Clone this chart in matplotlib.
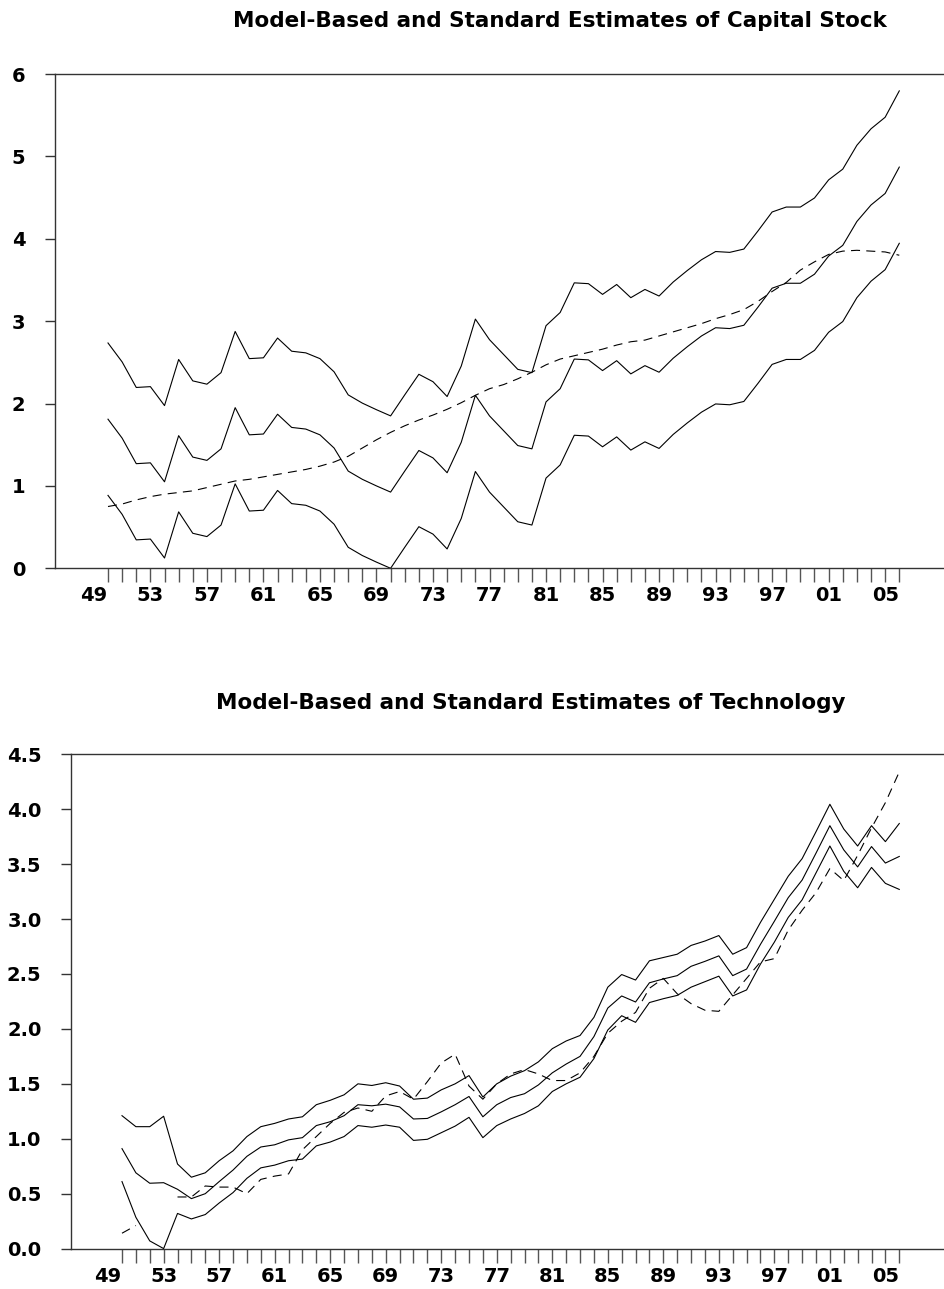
import numpy as np
import matplotlib
matplotlib.use("Agg")
import matplotlib.pyplot as plt

plt.rcParams['font.family'] = ['DejaVu Sans']
plt.rcParams['lines.scale_dashes'] = False

years = list(range(1950, 2007))
label_years = list(range(1949, 2006, 4))
label_text = ['49', '53', '57', '61', '65', '69', '73', '77', '81', '85', '89', '93', '97', '01', '05']

# ---- Capital stock panel ----
cap_mid = [1.81, 1.58, 1.27, 1.28, 1.05, 1.61, 1.35, 1.31, 1.45, 1.95,
           1.62, 1.63, 1.87, 1.71, 1.69, 1.62, 1.46, 1.18, 1.08, 1.00,
           0.925, 1.18, 1.43, 1.34, 1.16, 1.53, 2.10, 1.85, 1.67, 1.49,
           1.45, 2.02, 2.18, 2.54, 2.53, 2.40, 2.52, 2.36, 2.46, 2.38,
           2.55, 2.69, 2.82, 2.92, 2.91, 2.95, 3.17, 3.40, 3.46, 3.46,
           3.57, 3.79, 3.92, 4.21, 4.41, 4.55, 4.87]
cap_upper = [2.735, 2.505, 2.195, 2.205, 1.975, 2.535, 2.275, 2.235, 2.375, 2.875,
             2.545, 2.555, 2.795, 2.635, 2.615, 2.545, 2.385, 2.105, 2.005, 1.925,
             1.85, 2.105, 2.355, 2.265, 2.085, 2.455, 3.025, 2.775, 2.595, 2.415,
             2.375, 2.945, 3.105, 3.465, 3.455, 3.325, 3.445, 3.285, 3.385, 3.305,
             3.475, 3.615, 3.745, 3.845, 3.835, 3.875, 4.095, 4.325, 4.385, 4.385,
             4.495, 4.715, 4.845, 5.135, 5.335, 5.475, 5.795]
cap_lower = [0.885, 0.655, 0.345, 0.355, 0.125, 0.685, 0.425, 0.385, 0.525, 1.025,
             0.695, 0.705, 0.945, 0.785, 0.765, 0.695, 0.535, 0.255, 0.155, 0.075,
             0.0, 0.255, 0.505, 0.415, 0.235, 0.605, 1.175, 0.925, 0.745, 0.565,
             0.525, 1.095, 1.255, 1.615, 1.605, 1.475, 1.595, 1.435, 1.535, 1.455,
             1.625, 1.765, 1.895, 1.995, 1.985, 2.025, 2.245, 2.475, 2.535, 2.535,
             2.645, 2.865, 2.995, 3.285, 3.485, 3.625, 3.945]
cap_std = [0.75, 0.78, 0.83, 0.87, 0.90, 0.92, 0.94, 0.98, 1.02, 1.06,
           1.08, 1.11, 1.14, 1.17, 1.20, 1.24, 1.29, 1.36, 1.46, 1.56,
           1.65, 1.73, 1.80, 1.86, 1.93, 2.01, 2.10, 2.18, 2.23, 2.30,
           2.38, 2.47, 2.54, 2.58, 2.62, 2.66, 2.71, 2.75, 2.77, 2.82,
           2.87, 2.92, 2.97, 3.03, 3.08, 3.14, 3.24, 3.36, 3.47, 3.62,
           3.72, 3.81, 3.85, 3.86, 3.85, 3.84, 3.80]

# ---- Technology panel ----
tech_upper = [1.21, 1.11, 1.11, 1.205, 0.77, 0.65, 0.69, 0.80, 0.89, 1.02,
              1.11, 1.14, 1.18, 1.20, 1.31, 1.35, 1.40, 1.50, 1.485, 1.51,
              1.48, 1.36, 1.37, 1.445, 1.50, 1.575, 1.38, 1.50, 1.57, 1.62,
              1.70, 1.82, 1.89, 1.94, 2.105, 2.38, 2.495, 2.445, 2.62, 2.65,
              2.68, 2.76, 2.80, 2.85, 2.68, 2.74, 2.97, 3.18, 3.39, 3.55,
              3.795, 4.045, 3.82, 3.665, 3.85, 3.705, 3.87]
tech_mid = [0.91, 0.69, 0.595, 0.60, 0.54, 0.455, 0.50, 0.61, 0.715, 0.84,
            0.925, 0.945, 0.99, 1.01, 1.12, 1.155, 1.21, 1.31, 1.30, 1.315,
            1.29, 1.18, 1.185, 1.245, 1.31, 1.385, 1.20, 1.31, 1.375, 1.41,
            1.49, 1.60, 1.68, 1.75, 1.93, 2.19, 2.30, 2.245, 2.42, 2.455,
            2.485, 2.57, 2.615, 2.665, 2.485, 2.545, 2.77, 2.98, 3.195, 3.355,
            3.60, 3.85, 3.63, 3.475, 3.66, 3.51, 3.57]
tech_lower = [0.61, 0.285, 0.07, 0.0, 0.32, 0.27, 0.31, 0.415, 0.51, 0.64,
              0.735, 0.76, 0.80, 0.815, 0.935, 0.97, 1.02, 1.12, 1.105, 1.125,
              1.105, 0.985, 0.995, 1.055, 1.115, 1.195, 1.01, 1.12, 1.18, 1.23,
              1.30, 1.43, 1.50, 1.56, 1.73, 1.99, 2.12, 2.06, 2.24, 2.275,
              2.305, 2.38, 2.43, 2.48, 2.30, 2.355, 2.59, 2.79, 3.015, 3.175,
              3.42, 3.665, 3.435, 3.285, 3.47, 3.325, 3.27]
tech_std = [0.14, 0.21, np.nan, np.nan, 0.47, 0.47, 0.57, 0.56, 0.56, 0.50,
            0.63, 0.66, 0.68, 0.90, 1.02, 1.14, 1.24, 1.28, 1.25, 1.39,
            1.43, 1.36, 1.52, 1.69, 1.77, 1.48, 1.36, 1.50, 1.59, 1.63,
            1.59, 1.53, 1.53, 1.60, 1.75, 1.96, 2.07, 2.15, 2.37, 2.46,
            2.32, 2.23, 2.17, 2.16, 2.31, 2.46, 2.61, 2.64, 2.90, 3.08,
            3.24, 3.46, 3.35, 3.58, 3.83, 4.06, 4.34]

W, H = 944, 1289
fig = plt.figure(figsize=(W / 100, H / 100), dpi=100)

ax1 = fig.add_axes([55 / W, (H - 568.3) / H, 889 / W, (568.3 - 74) / H])
ax2 = fig.add_axes([71 / W, (H - 1248.6) / H, 873 / W, (1248.6 - 754.3) / H])

spine_col = '#333333'
dash = (0, (6.5, 4.5))


def style(ax, xlim, ylim, yticks, ylabels):
    ax.set_xlim(*xlim)
    ax.set_ylim(*ylim)
    ax.spines['right'].set_visible(False)
    for s in ('left', 'top', 'bottom'):
        ax.spines[s].set_color(spine_col)
        ax.spines[s].set_linewidth(1.0)
    ax.set_yticks(yticks)
    ax.set_yticklabels(ylabels)
    ax.tick_params(axis='y', direction='out', length=7.2, width=1.0, color=spine_col,
                   pad=14, labelsize=14)
    ax.set_xticks(label_years)
    ax.set_xticklabels(label_text)
    ax.set_xticks(years, minor=True)
    ax.xaxis.remove_overlapping_locs = False
    ax.tick_params(axis='x', which='major', length=0, pad=13, labelsize=14)
    ax.tick_params(axis='x', which='minor', direction='out', length=10.3, width=1.0,
                   color='#555555')
    for lab in ax.get_xticklabels() + ax.get_yticklabels():
        lab.set_fontweight('bold')


ax1.plot(years, cap_upper, color='black', lw=0.8)
ax1.plot(years, cap_mid, color='black', lw=0.8)
ax1.plot(years, cap_lower, color='black', lw=0.8)
ax1.plot(years, cap_std, color='black', lw=0.8, linestyle=dash)
style(ax1, (1946.249, 2009.165), (0, 6), [0, 1, 2, 3, 4, 5, 6],
      ['0', '1', '2', '3', '4', '5', '6'])

ax2.plot(years, tech_upper, color='black', lw=0.8)
ax2.plot(years, tech_mid, color='black', lw=0.8)
ax2.plot(years, tech_lower, color='black', lw=0.8)
ax2.plot(years, tech_std, color='black', lw=0.8, linestyle=dash)
yt2 = [0.0, 0.5, 1.0, 1.5, 2.0, 2.5, 3.0, 3.5, 4.0, 4.5]
style(ax2, (1946.326, 2009.222), (0, 4.5), yt2, ['%.1f' % v for v in yt2])

fig.text(560 / W, 1 - 21 / H, 'Model-Based and Standard Estimates of Capital Stock',
         ha='center', va='center', fontsize=15.5, fontweight='bold')
fig.text(531 / W, 1 - 703 / H, 'Model-Based and Standard Estimates of Technology',
         ha='center', va='center', fontsize=15.5, fontweight='bold')

fig.savefig('out.png', dpi=100)
